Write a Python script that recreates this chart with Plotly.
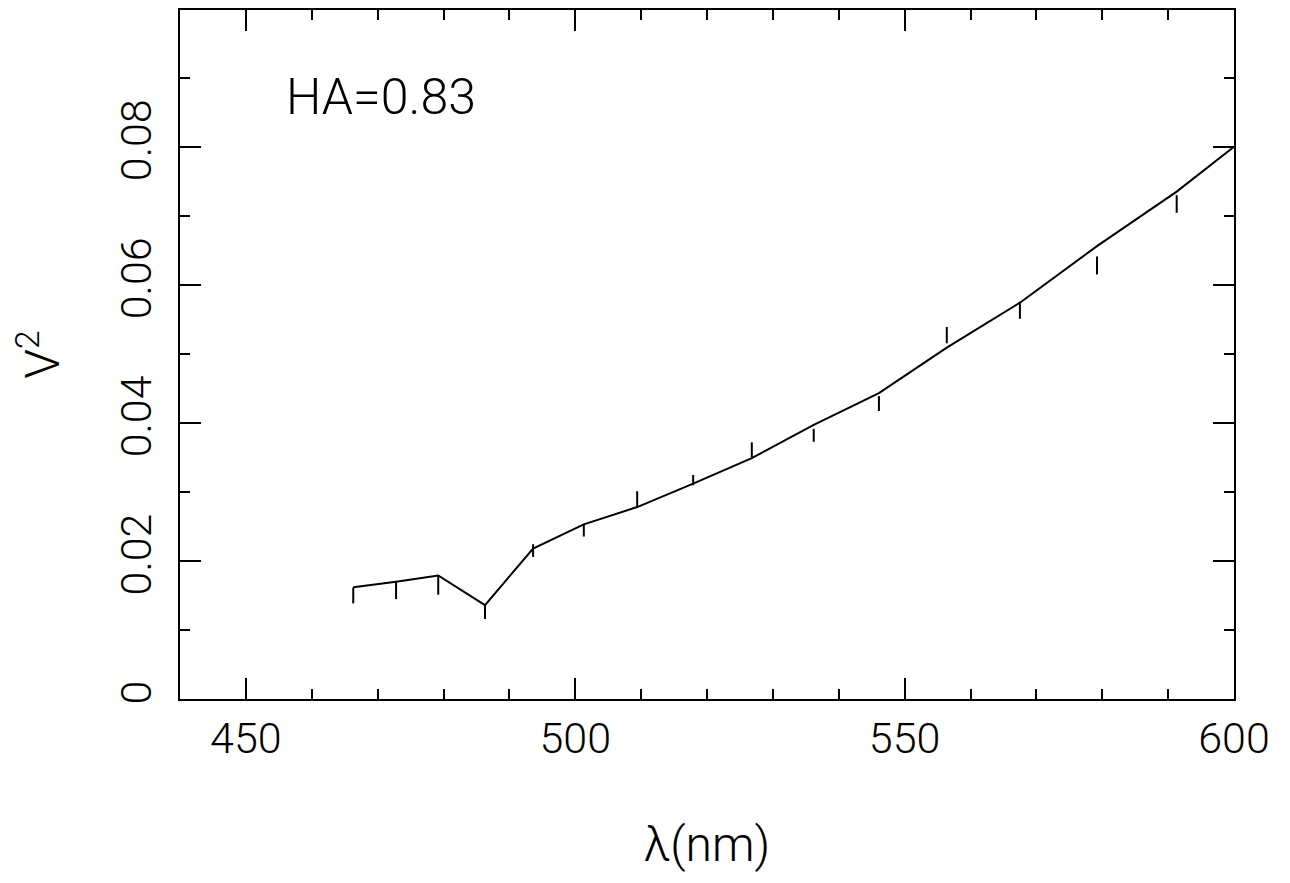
import plotly.graph_objects as go

# Measured visibilities (vertical error bars)
wavelength = [466.3, 472.8, 479.2, 486.3, 493.6, 501.3, 509.4, 517.9, 526.8, 536.2,
              546.1, 556.4, 567.5, 579.2, 591.3]
v2_obs = [0.0150, 0.0157, 0.0165, 0.0126, 0.0215, 0.0244, 0.0290, 0.0317, 0.0361, 0.0382,
          0.0428, 0.0527, 0.0563, 0.0628, 0.0717]
v2_err = [0.00115, 0.00123, 0.00139, 0.00103, 0.00092, 0.00087, 0.00110, 0.00074, 0.00108,
          0.00094, 0.00108, 0.00118, 0.00123, 0.00130, 0.00128]

# Model curve
model_wl = [466.3, 472.8, 479.2, 486.3, 493.6, 501.3, 509.4, 517.9, 526.8, 536.2,
            546.1, 556.4, 567.5, 579.2, 591.3, 600.0]
model_v2 = [0.0162, 0.0170, 0.0179, 0.0136, 0.0218, 0.0253, 0.0278, 0.0312, 0.0349, 0.0397,
            0.0443, 0.0509, 0.0574, 0.0656, 0.0735, 0.0800]

x_ticks = [450, 500, 550, 600]
y_ticks = [0, 0.02, 0.04, 0.06, 0.08]
y_ticklabels = ["0", "0.02", "0.04", "0.06", "0.08"]

FONT = "Roboto"

fig = go.Figure()
fig.add_trace(go.Scatter(
    x=model_wl, y=model_v2, mode="lines",
    line=dict(color="black", width=2), showlegend=False, hoverinfo="skip"))
fig.add_trace(go.Scatter(
    x=wavelength, y=v2_obs, mode="markers",
    marker=dict(size=1, color="rgba(0,0,0,0)"),
    error_y=dict(type="data", array=v2_err, visible=True, width=0, thickness=2, color="black"),
    showlegend=False))

fig.add_annotation(x=455.8, y=0.0872, xref="x", yref="y", text="HA=0.83",
                   showarrow=False, xanchor="left", yanchor="middle",
                   font=dict(family=FONT, size=50, color="black", weight=300))

fig.update_xaxes(
    range=[440, 600], tickvals=x_ticks, ticktext=[str(v) for v in x_ticks],
    ticks="inside", ticklen=21, tickwidth=2, tickcolor="black",
    minor=dict(dtick=10, tick0=440, ticks="inside", ticklen=10, tickwidth=2, tickcolor="black"),
    showline=True, linecolor="black", linewidth=2, mirror="ticks",
    showgrid=False, zeroline=False,
    tickfont=dict(family=FONT, size=43, color="black", weight=300),
    title=dict(text="λ(nm)", font=dict(family=FONT, size=48, color="black", weight=300), standoff=66),
)
fig.update_yaxes(
    range=[0, 0.0998], tickvals=y_ticks, ticktext=y_ticklabels, tickangle=-90,
    ticks="inside", ticklen=21, tickwidth=2, tickcolor="black",
    minor=dict(dtick=0.01, tick0=0, ticks="inside", ticklen=10, tickwidth=2, tickcolor="black"),
    showline=True, linecolor="black", linewidth=2, mirror="ticks",
    showgrid=False, zeroline=False,
    tickfont=dict(family=FONT, size=43, color="black", weight=300),
    ticklabelstandoff=10,
    title=dict(text="V<sup>2</sup>", font=dict(family=FONT, size=48, color="black", weight=300), standoff=40),
)

# page body adds an 8px offset; margins compensate so the plot box sits at 180..1234 x 8..699
fig.update_layout(
    width=1290, height=883,
    margin=dict(l=172, r=64, t=0, b=192),
    paper_bgcolor="white", plot_bgcolor="white",
)

fig.write_html("out.html")
